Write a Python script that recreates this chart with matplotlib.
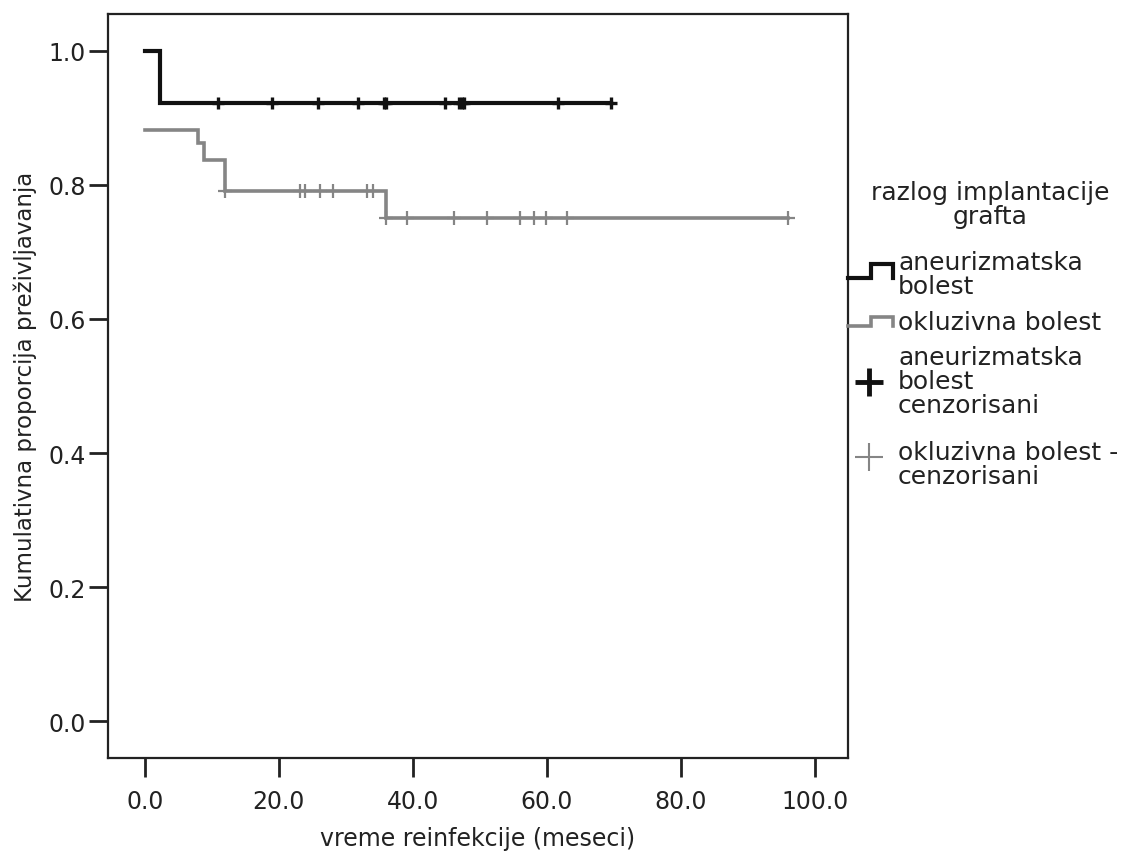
import matplotlib
matplotlib.use("Agg")
import matplotlib.pyplot as plt
from matplotlib.lines import Line2D

plt.rcParams["font.family"] = ["DejaVu Sans"]

# aneurizmatska bolest: step curve + censored times
aneu_times = [0.0, 2.2, 69.6]
aneu_surv = [1.0, 0.922, 0.922]
aneu_cens = [10.9, 18.9, 25.9, 31.8, 35.7, 35.9, 44.8, 46.8, 47.3, 47.6, 61.7, 69.6]

# okluzivna bolest: step curve + censored times
okl_times = [0.0, 7.9, 8.8, 12.0, 35.9, 96.0]
okl_surv = [0.882, 0.862, 0.837, 0.791, 0.751, 0.751]
okl_cens = [12.0, 23.2, 23.9, 26.2, 28.0, 33.1, 34.0, 35.9, 39.1, 46.1,
            51.0, 55.9, 58.0, 59.9, 63.0, 96.0]

xticks = [0, 20, 40, 60, 80, 100]
yticks = [0.0, 0.2, 0.4, 0.6, 0.8, 1.0]

legend_title = "razlog implantacije\ngrafta"
legend_labels = ["aneurizmatska\nbolest", "okluzivna bolest",
                 "aneurizmatska\nbolest\ncenzorisani", "okluzivna bolest -\ncenzorisani"]

BLACK = "#111111"
GRAY = "#858585"
TEXT = "#222222"
W, H = 1123, 853


def surv_at(times, surv, t):
    val = surv[0]
    for ti, si in zip(times, surv):
        if ti <= t:
            val = si
    return val


def fx(x):
    return x / W


def fy(y):
    return 1 - y / H


fig = plt.figure(figsize=(W / 100, H / 100), dpi=100)
ax = fig.add_axes([fx(108), fy(759), (848 - 108) / W, (759 - 15) / H])

ax.step(aneu_times, aneu_surv, where="post", color=BLACK, lw=3,
        solid_joinstyle="miter")
ax.step(okl_times, okl_surv, where="post", color=GRAY, lw=2.6,
        solid_joinstyle="miter")
ax.plot(aneu_cens, [surv_at(aneu_times, aneu_surv, t) for t in aneu_cens],
        ls="none", marker="+", ms=9, mew=2.4, color=BLACK)
ax.plot(okl_cens, [surv_at(okl_times, okl_surv, t) for t in okl_cens],
        ls="none", marker="+", ms=10, mew=1.6, color=GRAY)

ax.set_xlim(-5.5, 104.9)
ax.set_ylim(-0.055, 1.055)
ax.set_xticks(xticks)
ax.set_xticklabels([f"{v:.1f}" for v in xticks])
ax.set_yticks(yticks)
ax.set_yticklabels([f"{v:.1f}" for v in yticks])

for s in ax.spines.values():
    s.set_linewidth(1.6)
    s.set_color(TEXT)
ax.tick_params(length=14, width=2, color=TEXT, labelsize=17,
               labelcolor=TEXT, pad=2)
ax.tick_params(axis="x", pad=8)

ax.set_xlabel("vreme reinfekcije (meseci)", fontsize=17, color=TEXT, labelpad=10)
ax.set_ylabel("Kumulativna proporcija preživljavanja", fontsize=16.5,
              color=TEXT, labelpad=8)

# legend, drawn at the right of the plot
fig.text(fx(990), fy(205), legend_title, ha="center", va="center",
         fontsize=18, color=TEXT, linespacing=1.0)

label_y = [275, 323, 382, 465]
for lab, yy in zip(legend_labels, label_y):
    fig.text(fx(898), fy(yy), lab, ha="left", va="center", fontsize=18,
             color=TEXT, linespacing=0.98)

# step-shaped keys for the survival lines
for col, lw, lo, hi in [(BLACK, 3, 279, 265), (GRAY, 2.6, 327, 318)]:
    xs = [fx(848), fx(871), fx(871), fx(893), fx(893)]
    ys = [fy(lo), fy(lo), fy(hi), fy(hi), fy(lo)]
    fig.add_artist(Line2D(xs, ys, color=col, lw=lw, solid_joinstyle="miter",
                          transform=fig.transFigure))

# plus keys for censored cases
fig.add_artist(Line2D([fx(869)], [fy(383)], ls="none", marker="+", ms=20,
                      mew=3.5, color=BLACK, transform=fig.transFigure))
fig.add_artist(Line2D([fx(869)], [fy(458)], ls="none", marker="+", ms=20,
                      mew=1.5, color=GRAY, transform=fig.transFigure))

fig.savefig("out.png", dpi=100, facecolor="white")
